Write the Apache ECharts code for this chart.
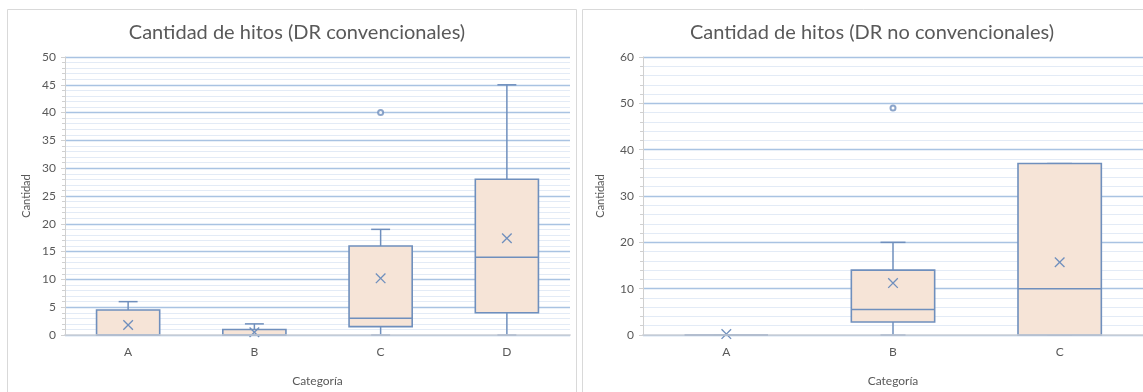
<!DOCTYPE html>
<html>
<head>
<meta charset="utf-8">
<script src="https://cdn.jsdelivr.net/npm/echarts@6/dist/echarts.min.js"></script>
<style>
  html, body { margin: 0; padding: 0; background: #ffffff; }
  #chart { width: 1143px; height: 392px; }
</style>
</head>
<body>
<div id="chart"></div>
<script>
// Left panel: milestones per category, conventional DR
const categoriesConv = ['A', 'B', 'C', 'D'];
const convMin    = [0, 0, 0, 0];
const convQ1     = [0, 0, 1.5, 4];
const convMedian = [0, 0, 3, 14];
const convQ3     = [4.5, 1, 16, 28];
const convMax    = [6, 2, 19, 45];
const convMean   = [1.8, 0.5, 10.2, 17.4];
const convOutliers = [['C', 40]];

// Right panel: milestones per category, non-conventional DR
const categoriesNoConv = ['A', 'B', 'C'];
const noConvMin    = [0, 0, 0];
const noConvQ1     = [0, 2.8, 0];
const noConvMedian = [0, 5.5, 10];
const noConvQ3     = [0, 14, 37];
const noConvMax    = [0, 20, 37];
const noConvMean   = [0.2, 11.2, 15.7];
const noConvOutliers = [['B', 49]];

const titleConv = 'Cantidad de hitos (DR convencionales)';
const titleNoConv = 'Cantidad de hitos (DR no convencionales)';
const yName = 'Cantidad';
const xName = 'Categoría';

const FONT = 'Lato, "Open Sans", sans-serif';
const TEXT = '#595959';
const BLUE = '#6f8fbd';
const FILL = '#f6e4d7';

function boxRows(mins, q1s, meds, q3s, maxs, means) {
  return mins.map((v, i) => [i, v, q1s[i], meds[i], q3s[i], maxs[i], means[i]]);
}

// Box, whiskers with short caps, median line and an "x" at the mean
function renderBox(params, api) {
  const i = api.value(0);
  const pMin = api.coord([i, api.value(1)]);
  const pQ1 = api.coord([i, api.value(2)]);
  const pMed = api.coord([i, api.value(3)]);
  const pQ3 = api.coord([i, api.value(4)]);
  const pMax = api.coord([i, api.value(5)]);
  const pMean = api.coord([i, api.value(6)]);
  const band = api.size([1, 0])[0];
  const bw = band * 0.5;
  const cw = bw * 0.3;
  const x = pMin[0];
  const line = { stroke: BLUE, lineWidth: 1.5 };
  const m = 4.8;
  return {
    type: 'group',
    children: [
      { type: 'line', shape: { x1: x, y1: pQ1[1], x2: x, y2: pMin[1] }, style: line },
      { type: 'line', shape: { x1: x, y1: pQ3[1], x2: x, y2: pMax[1] }, style: line },
      { type: 'line', shape: { x1: x - cw / 2, y1: pMin[1], x2: x + cw / 2, y2: pMin[1] }, style: line },
      { type: 'line', shape: { x1: x - cw / 2, y1: pMax[1], x2: x + cw / 2, y2: pMax[1] }, style: line },
      { type: 'rect', shape: { x: x - bw / 2, y: pQ3[1], width: bw, height: pQ1[1] - pQ3[1] },
        style: { fill: FILL, stroke: BLUE, lineWidth: 1.6 } },
      { type: 'line', shape: { x1: x - bw / 2, y1: pMed[1], x2: x + bw / 2, y2: pMed[1] }, style: line },
      { type: 'line', shape: { x1: pMean[0] - m, y1: pMean[1] - m, x2: pMean[0] + m, y2: pMean[1] + m },
        style: { stroke: BLUE, lineWidth: 1.3 } },
      { type: 'line', shape: { x1: pMean[0] - m, y1: pMean[1] + m, x2: pMean[0] + m, y2: pMean[1] - m },
        style: { stroke: BLUE, lineWidth: 1.3 } }
    ]
  };
}

function yAxisFor(gridIndex, max, interval, nameGap) {
  return {
    type: 'value', gridIndex, min: 0, max, interval,
    name: yName, nameLocation: 'middle', nameGap,
    nameTextStyle: { color: TEXT, fontFamily: FONT, fontSize: 11 },
    axisLine: { show: true, lineStyle: { color: '#d0d0d0', width: 1 } },
    axisTick: { show: true, length: 4, lineStyle: { color: '#d0d0d0' } },
    minorTick: { show: true, splitNumber: 5, length: 3, lineStyle: { color: '#d0d0d0' } },
    axisLabel: { color: TEXT, fontFamily: FONT, fontSize: 12, margin: 9 },
    splitLine: { show: true, lineStyle: { color: '#a9c3e2', width: 1.3 } },
    minorSplitLine: { show: true, lineStyle: { color: '#e3ebf6', width: 1 } },
    z: 0
  };
}

function xAxisFor(gridIndex, cats) {
  return {
    type: 'category', gridIndex, data: cats, boundaryGap: true,
    name: xName, nameLocation: 'middle', nameGap: 40,
    nameTextStyle: { color: TEXT, fontFamily: FONT, fontSize: 12 },
    axisLine: { show: true, lineStyle: { color: 'rgba(205,208,214,0.7)', width: 2 } },
    axisTick: { show: false },
    axisLabel: { color: TEXT, fontFamily: FONT, fontSize: 12, margin: 11 },
    splitLine: { show: false },
    z: 3
  };
}

const chart = echarts.init(document.getElementById('chart'), null, { renderer: 'canvas' });

chart.setOption({
  animation: false,
  backgroundColor: '#ffffff',
  graphic: [
    { type: 'rect', shape: { x: 7.5, y: 9.5, width: 569, height: 400 },
      style: { fill: 'none', stroke: '#d9d9d9', lineWidth: 1 }, silent: true },
    { type: 'rect', shape: { x: 582.5, y: 9.5, width: 569, height: 400 },
      style: { fill: 'none', stroke: '#d9d9d9', lineWidth: 1 }, silent: true }
  ],
  title: [
    { text: titleConv, left: 292, top: 18, textAlign: 'center',
      textStyle: { color: TEXT, fontFamily: FONT, fontSize: 20, fontWeight: 'normal' } },
    { text: titleNoConv, left: 867, top: 18, textAlign: 'center',
      textStyle: { color: TEXT, fontFamily: FONT, fontSize: 20, fontWeight: 'normal' } }
  ],
  grid: [
    { left: 65, top: 57, width: 505, height: 279 },
    { left: 643, top: 57, width: 500, height: 279 }
  ],
  xAxis: [xAxisFor(0, categoriesConv), xAxisFor(1, categoriesNoConv)],
  yAxis: [yAxisFor(0, 50, 5, 33), yAxisFor(1, 60, 10, 37)],
  series: [
    { type: 'custom', xAxisIndex: 0, yAxisIndex: 0, z: 2,
      renderItem: renderBox,
      encode: { x: 0, y: [1, 2, 3, 4, 5, 6] },
      data: boxRows(convMin, convQ1, convMedian, convQ3, convMax, convMean) },
    { type: 'scatter', xAxisIndex: 0, yAxisIndex: 0, z: 2,
      symbol: 'emptyCircle', symbolSize: 5,
      itemStyle: { color: BLUE, borderColor: BLUE, borderWidth: 1.3 },
      data: convOutliers },
    { type: 'custom', xAxisIndex: 1, yAxisIndex: 1, z: 2,
      renderItem: renderBox,
      encode: { x: 0, y: [1, 2, 3, 4, 5, 6] },
      data: boxRows(noConvMin, noConvQ1, noConvMedian, noConvQ3, noConvMax, noConvMean) },
    { type: 'scatter', xAxisIndex: 1, yAxisIndex: 1, z: 2,
      symbol: 'emptyCircle', symbolSize: 5,
      itemStyle: { color: BLUE, borderColor: BLUE, borderWidth: 1.3 },
      data: noConvOutliers }
  ]
});
</script>
</body>
</html>
